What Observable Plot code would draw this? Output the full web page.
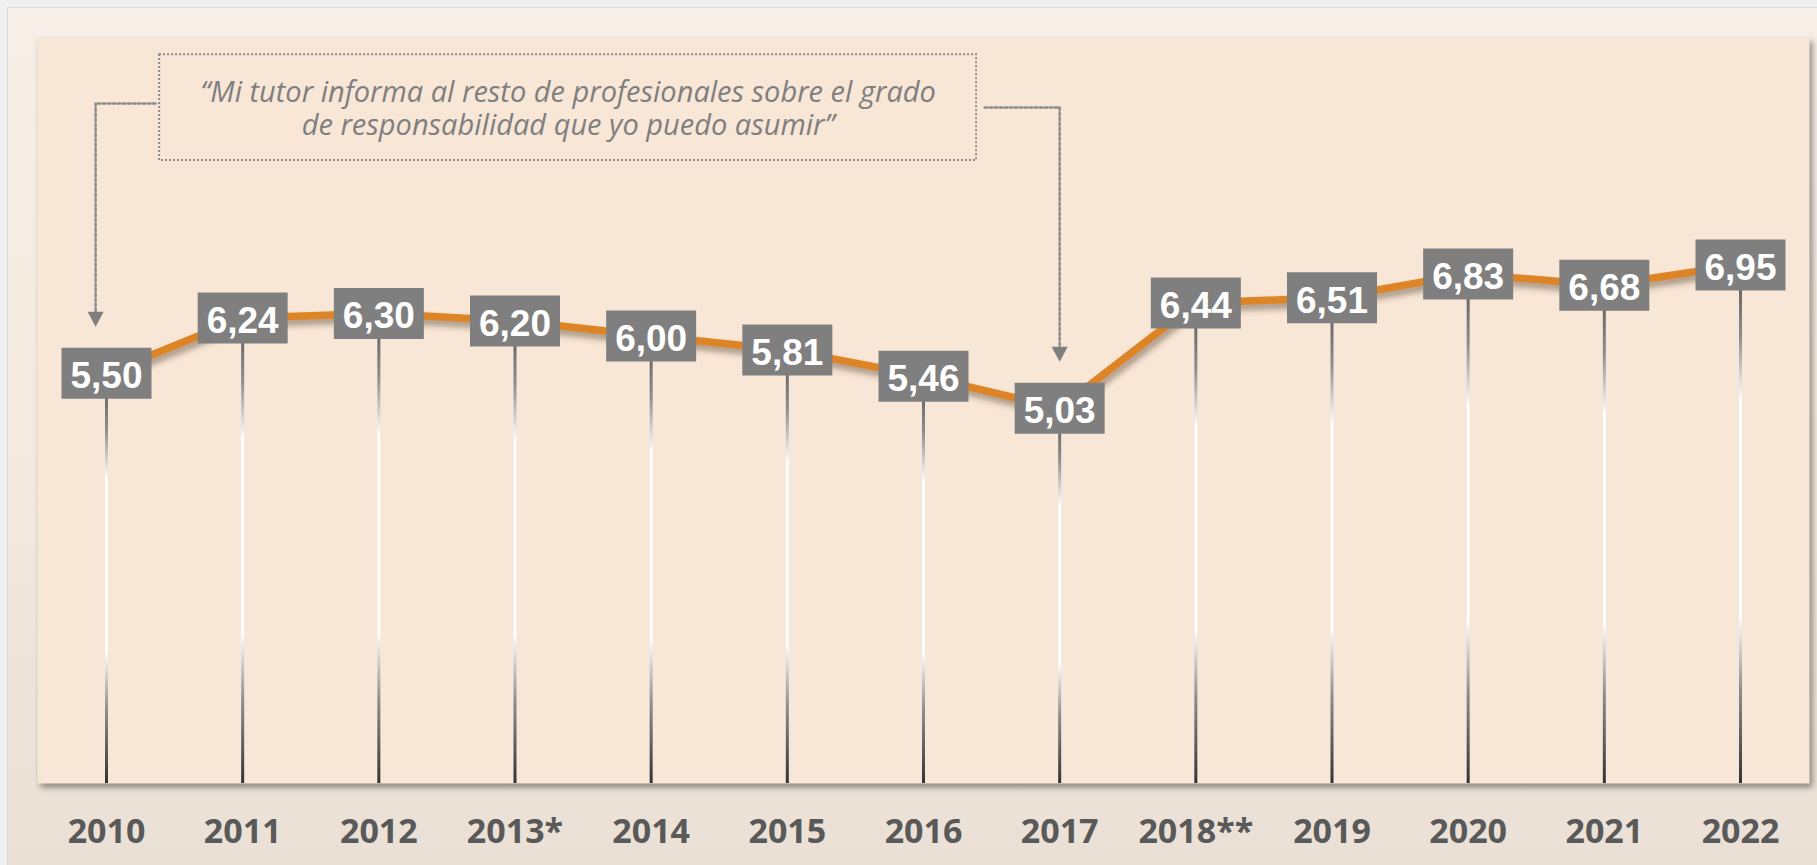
<!DOCTYPE html>
<html>
<head>
<meta charset="utf-8">
<script src="https://cdn.jsdelivr.net/npm/d3@7"></script>
<script src="https://cdn.jsdelivr.net/npm/@observablehq/plot@0.6"></script>
<style>
  html, body { margin: 0; padding: 0; background: #f0f0f0; overflow: hidden; }
  #wrap { position: relative; width: 1817px; height: 865px; }
  #bg { position: absolute; left: 7px; top: 7px; right: 0; bottom: 0;
        border-left: 1px solid #d9d9d9; border-top: 1px solid #dedede;
        background: linear-gradient(to bottom, #f7efe7 0%, #f3e9de 55%, #eae0d5 100%); }
  #chart { position: absolute; left: 0; top: 0; }
</style>
</head>
<body>
<div id="wrap"><div id="bg"></div><div id="chart"></div></div>
<script>
// ---- data ----
const years = ["2010", "2011", "2012", "2013*", "2014", "2015", "2016", "2017", "2018**", "2019", "2020", "2021", "2022"];
const values = [5.50, 6.24, 6.30, 6.20, 6.00, 5.81, 5.46, 5.03, 6.44, 6.51, 6.83, 6.68, 6.95];
const valueLabels = ["5,50", "6,24", "6,30", "6,20", "6,00", "5,81", "5,46", "5,03", "6,44", "6,51", "6,83", "6,68", "6,95"];
const quoteLines = ["“Mi tutor informa al resto de profesionales sobre el grado", "de responsabilidad que yo puedo asumir”"];
const yDomain = [0, 10];

// annotation anchors (data units: x = year index, y = score)
const quoteBox = [{x1: 0.39, x2: 6.39, y1: 8.35, y2: 9.77}];
const quoteAnchor = [{x: 3.39, y: 9.06}];
const connectorDefs = [
  {target: 0, x0: 0.36, xCorner: -0.08, level: 9.115},
  {target: 7, x0: 6.45, xCorner: 7.0, level: 9.062}
];

// ---- layout ----
const W = 1817, H = 865, mTop = 37, mBottom = 82, mLeft = 37, mRight = 8;
const ppu = (H - mTop - mBottom) / (yDomain[1] - yDomain[0]);
const boxW = 90, boxH = 51, arrowGap = 21, arrowH = 15;
const quoteFont = 29;

const data = years.map((year, i) => ({i, year, value: values[i], label: valueLabels[i]}));

const connectorPts = connectorDefs.flatMap((c, k) => {
  const v = values[c.target];
  const yEnd = v + (boxH / 2 + arrowGap + arrowH - 2) / ppu;
  return [
    {k, x: c.x0, y: c.level},
    {k, x: c.xCorner, y: c.level},
    {k, x: c.xCorner, y: yEnd}
  ];
});
const arrowHeads = connectorDefs.map(c => ({x: c.xCorner, y: values[c.target] + (boxH / 2 + arrowGap + arrowH / 2) / ppu}));

const boxSymbol = {draw(ctx) { ctx.rect(-boxW / 2, -boxH / 2, boxW, boxH); }};
const downTriangle = {draw(ctx) { ctx.moveTo(-8, -arrowH / 2); ctx.lineTo(8, -arrowH / 2); ctx.lineTo(0, arrowH / 2); ctx.closePath(); }};

const plot = Plot.plot({
  width: W, height: H,
  marginTop: mTop, marginBottom: mBottom, marginLeft: mLeft, marginRight: mRight,
  style: {background: "transparent", overflow: "visible", fontFamily: "'Open Sans', sans-serif"},
  x: {type: "linear", domain: [0, years.length - 1], insetLeft: 69, insetRight: 69, axis: null},
  y: {domain: yDomain, axis: null},
  marks: [
    Plot.frame({fill: "#f8e6d6", stroke: "none"}),
    Plot.ruleX(data, {x: "i", y1: 0, y2: "value", stroke: "#666", strokeWidth: 3}),
    Plot.line(data, {x: "i", y: "value", stroke: "#dd8526", strokeWidth: 7.5, strokeLinejoin: "round"}),
    Plot.dot(data, {x: "i", y: "value", symbol: boxSymbol, r: 10, fill: "#7f7f7f", stroke: "none"}),
    Plot.text(data, {x: "i", y: "value", text: "label", fill: "#ffffff", fontSize: 37, fontWeight: "bold",
      fontFamily: "'Liberation Sans', Arial, sans-serif", dy: 3}),
    Plot.rect(quoteBox, {x1: "x1", x2: "x2", y1: "y1", y2: "y2", fill: "none", stroke: "#8c8c8c",
      strokeWidth: 2, strokeDasharray: "2,2"}),
    Plot.text(quoteAnchor, {x: "x", y: "y", text: () => quoteLines.join("\n"), fill: "#7f7f7f",
      fontSize: quoteFont, fontStyle: "italic", lineHeight: 33 / quoteFont, fontFamily: "'Open Sans', sans-serif"}),
    Plot.line(connectorPts, {x: "x", y: "y", z: "k", stroke: "#8c8c8c", strokeWidth: 2.5, strokeDasharray: "2.5,2.5"}),
    Plot.dot(arrowHeads, {x: "x", y: "y", symbol: downTriangle, r: 10, fill: "#7f7f7f", stroke: "none"}),
    Plot.axisX({ticks: d3.range(years.length), tickFormat: i => years[i], tickSize: 0, tickPadding: 35,
      fontSize: 34, fontWeight: "bold", fill: "#595959", fontFamily: "'Open Sans', sans-serif"})
  ]
});

document.getElementById("chart").appendChild(plot);

// ---- styling post-process ----
const svg = d3.select(plot);
const defs = svg.insert("defs", ":first-child");
svg.selectAll('g[aria-label="rule"] line').each(function(d, k) {
  const el = d3.select(this);
  const y1 = +el.attr("y1"), y2 = +el.attr("y2");
  const id = "stemGrad" + k;
  const g = defs.append("linearGradient").attr("id", id).attr("gradientUnits", "userSpaceOnUse")
    .attr("x1", 0).attr("x2", 0).attr("y1", Math.min(y1, y2)).attr("y2", Math.max(y1, y2));
  [[0, "#555555"], [0.14, "#8f8f8f"], [0.26, "#ffffff"], [0.68, "#ffffff"], [0.82, "#8f8f8f"], [1, "#333333"]]
    .forEach(([o, c]) => g.append("stop").attr("offset", o).attr("stop-color", c));
  el.attr("stroke", `url(#${id})`);
});
svg.select('[aria-label="frame"]').style("filter", "drop-shadow(3px 4px 3px rgba(0,0,0,0.40))");
svg.selectAll('g[aria-label="line"]').filter((d, k) => k === 0)
  .style("filter", "drop-shadow(2px 5px 3px rgba(60,40,20,0.45))");
</script>
</body>
</html>
